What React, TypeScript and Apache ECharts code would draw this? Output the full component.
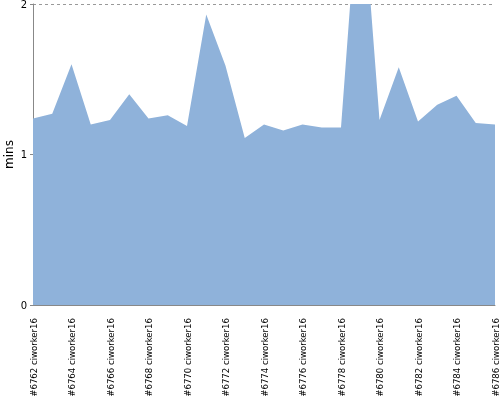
import React, { useEffect, useRef } from "react";
import * as echarts from "echarts";

const builds = [
  "6762", "6763", "6764", "6765", "6766", "6767", "6768", "6769", "6770", "6771",
  "6772", "6773", "6774", "6775", "6776", "6777", "6778", "6779", "6780", "6781",
  "6782", "6783", "6784", "6785", "6786",
];
const worker = "ciworker16";
const categories = builds.map((b) => `#${b} ${worker}`);
const durations = [
  1.24, 1.27, 1.6, 1.2, 1.23, 1.4, 1.24, 1.26, 1.19, 1.93,
  1.59, 1.11, 1.2, 1.16, 1.2, 1.18, 1.18, 2.9, 1.23, 1.58,
  1.22, 1.33, 1.39, 1.21, 1.2,
];
const yTicks = [0, 1, 2];

export default function App() {
  const ref = useRef<HTMLDivElement>(null);
  useEffect(() => {
    if (!ref.current) return;
    const chart = echarts.init(ref.current, undefined, { renderer: "svg" });
    chart.setOption({
      animation: false,
      grid: {
        left: 33,
        right: 5,
        top: 4,
        bottom: 95,
        containLabel: false,
        outerBoundsMode: "none",
      },
      xAxis: {
        type: "category",
        data: categories,
        boundaryGap: false,
        axisLine: { lineStyle: { color: "#888", width: 1 } },
        axisTick: { show: false },
        axisLabel: {
          rotate: 90,
          interval: 1,
          fontSize: 9.5,
          fontFamily: "Liberation Sans Narrow, DejaVu Sans Condensed, Liberation Sans, sans-serif",
          color: "#000",
          margin: 13,
        },
        splitLine: { show: false },
      },
      yAxis: {
        type: "value",
        min: yTicks[0],
        max: yTicks[yTicks.length - 1],
        interval: 1,
        name: "mins",
        nameLocation: "middle",
        nameGap: 18,
        nameMoveOverlap: false,
        nameTextStyle: { fontSize: 12, color: "#000", fontFamily: "DejaVu Sans, sans-serif" },
        axisLine: { show: true, lineStyle: { color: "#888", width: 1 } },
        axisTick: { show: true, length: 3, lineStyle: { color: "#888" } },
        axisLabel: { fontSize: 10, color: "#000", margin: 6, fontFamily: "DejaVu Sans, sans-serif" },
        splitLine: { show: true, lineStyle: { color: "#999", type: [3, 3], width: 1 } },
      },
      series: [
        {
          type: "line",
          data: durations,
          showSymbol: false,
          symbol: "none",
          lineStyle: { width: 0 },
          areaStyle: { color: "#8fb2da", opacity: 1 },
          clip: true,
          z: 1,
        },
      ],
    });
    return () => chart.dispose();
  }, []);
  return (
    <div
      ref={ref}
      style={{ position: "fixed", left: 0, top: 0, width: 500, height: 400 }}
    />
  );
}
